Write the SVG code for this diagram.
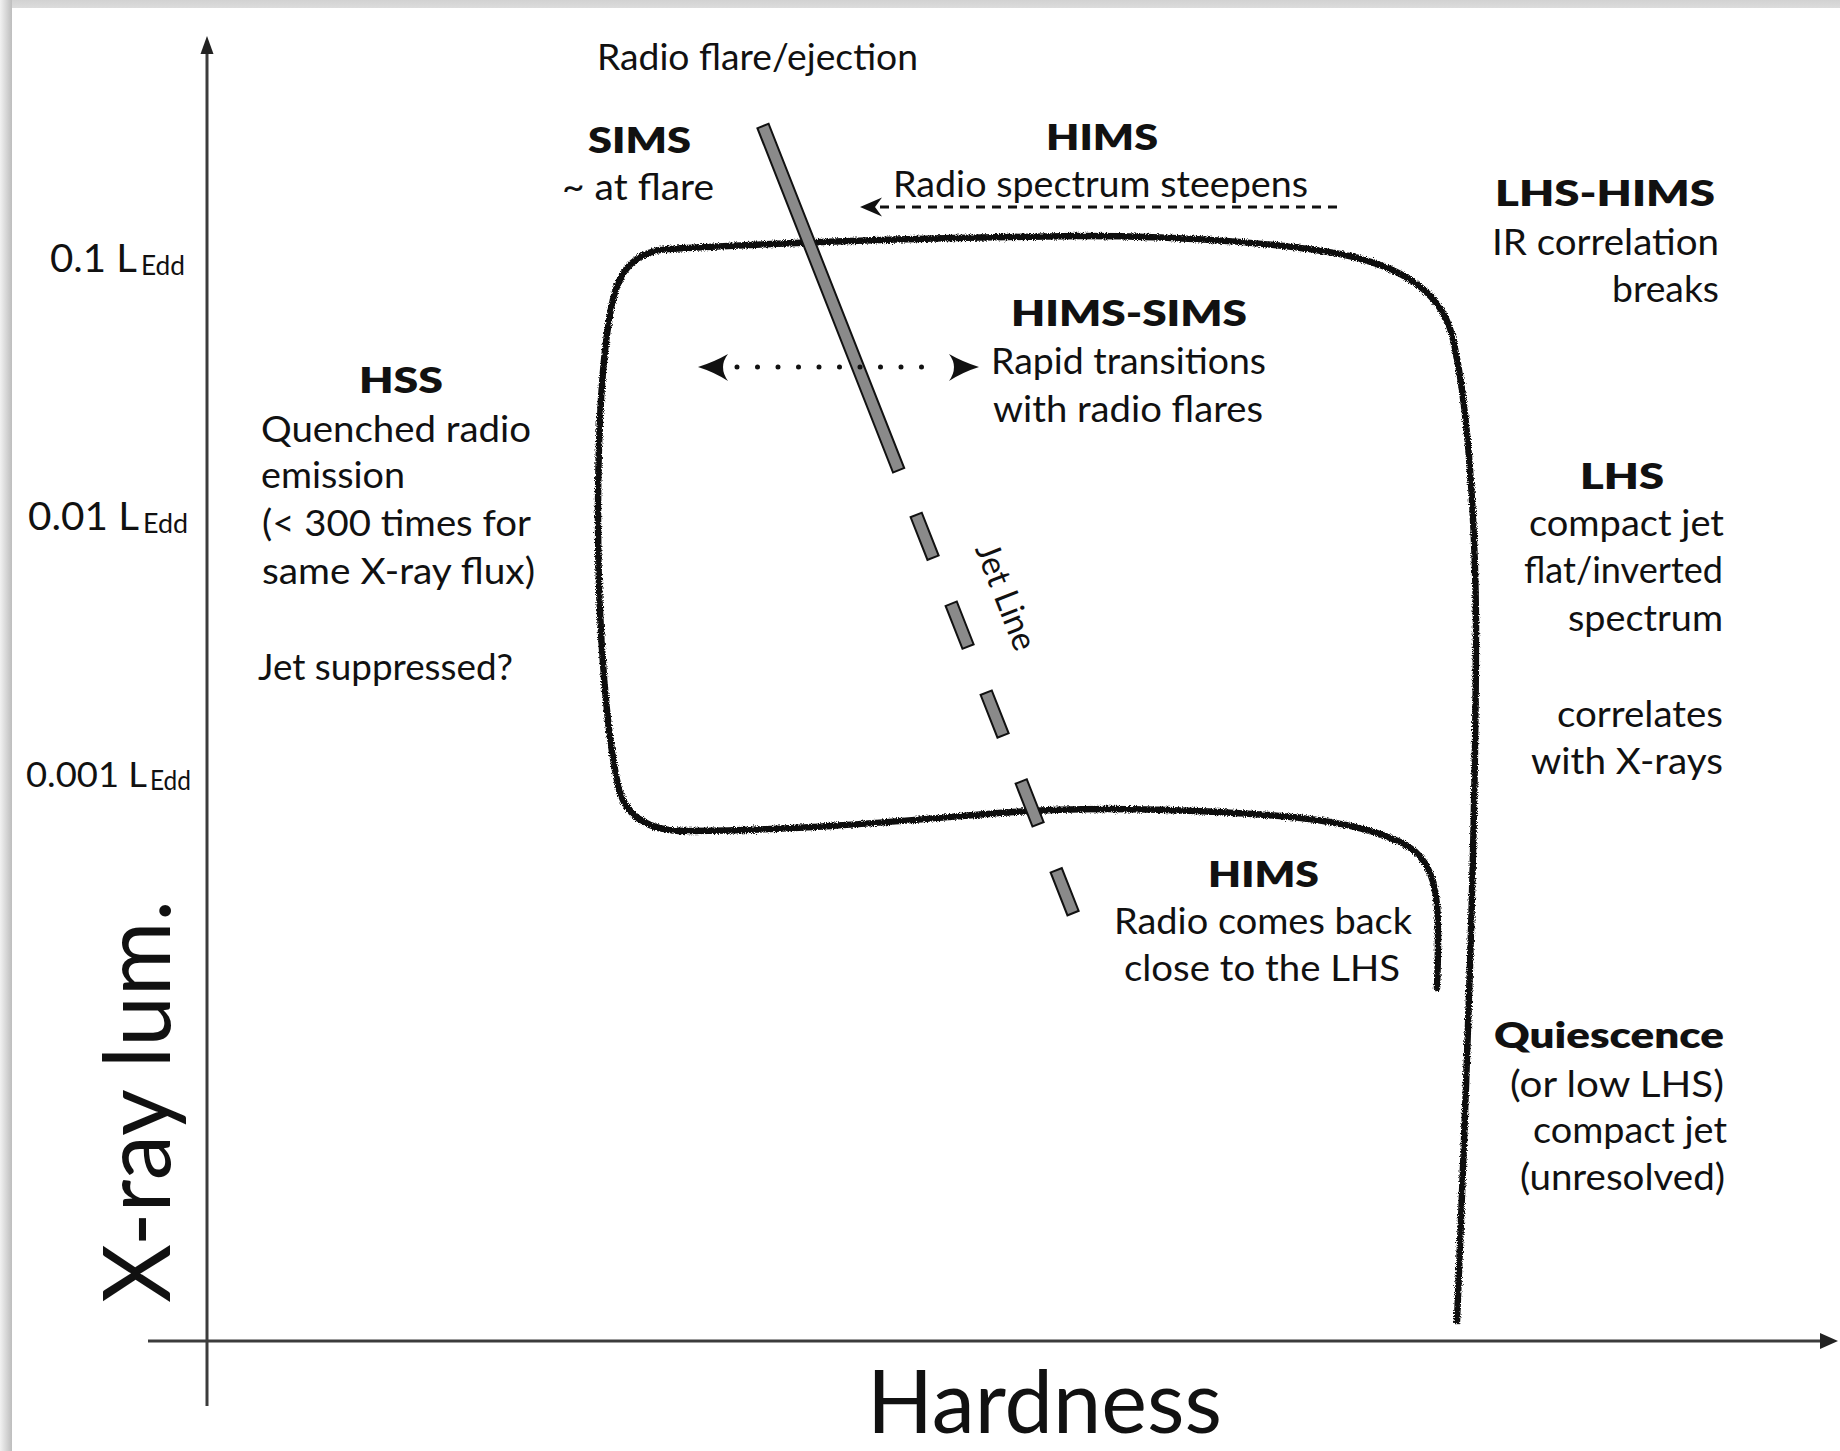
<svg xmlns="http://www.w3.org/2000/svg" width="1840" height="1451" viewBox="0 0 1840 1451">
<defs>
<style>
.t{font-family:Lato,"Liberation Sans",sans-serif;font-size:36px;fill:#111}
.b{font-weight:800}
.tick{font-family:Lato,"Liberation Sans",sans-serif;font-size:38px;fill:#111}
.sub{font-size:27px}
.ax{stroke:#3c3c3c;stroke-width:3;fill:none}
.axh{fill:#222}
.track{fill:none;stroke:#111;stroke-width:6.5;stroke-linecap:round;stroke-linejoin:round}
.jet{fill:#8a8a8a;stroke:#111;stroke-width:2}
.head{fill:#111}
</style>
<linearGradient id="leftShade" x1="0" y1="0" x2="1" y2="0">
<stop offset="0" stop-color="#f2f2f2"/><stop offset="1" stop-color="#bdbdbd"/>
</linearGradient>
<linearGradient id="topShade" x1="0" y1="0" x2="0" y2="1">
<stop offset="0" stop-color="#d2d2d2"/><stop offset="1" stop-color="#dcdcdc"/>
</linearGradient>
<filter id="rough" x="-3%" y="-3%" width="106%" height="106%">
<feTurbulence type="fractalNoise" baseFrequency="1.1" numOctaves="2" seed="7" result="noise"/>
<feDisplacementMap in="SourceGraphic" in2="noise" scale="4.5" xChannelSelector="R" yChannelSelector="G"/>
</filter>
</defs>

<rect x="0" y="0" width="1840" height="1451" fill="#fff"/>
<rect x="0" y="0" width="1840" height="8" fill="url(#topShade)"/>
<rect x="0" y="0" width="12" height="1451" fill="url(#leftShade)"/>

<g id="connectors">
  <g id="axes">
    <line class="ax" x1="207" y1="1406" x2="207" y2="50"/>
    <polygon class="axh" points="207,36 200.5,54 213.5,54"/>
    <line class="ax" x1="148" y1="1341" x2="1822" y2="1341"/>
    <polygon class="axh" points="1838,1341 1820,1333 1820,1349"/>
  </g>
  <path id="track" class="track" filter="url(#rough)" d="M1437,988 C1438,960 1439,930 1437,905 C1434,870 1422,852 1400,842 C1370,828 1330,820 1280,816 C1200,810 1100,806 1013,812 C930,818 820,830 690,831 C650,832 625,818 618,785 C608,740 598,640 598,520 C598,430 602,360 610,315 C616,275 630,252 668,249 C760,244 900,238 1080,236 C1200,236 1290,245 1340,254 C1400,266 1440,290 1452,335 C1468,400 1475,520 1476,620 C1476,800 1470,1000 1457,1321"/>
  <g id="jetline" transform="translate(763 126) rotate(68.5)">
    <rect class="jet" x="0" y="-6" width="370" height="12"/>
    <rect class="jet" x="418" y="-6" width="46" height="12"/>
    <rect class="jet" x="513.5" y="-6" width="46" height="12"/>
    <rect class="jet" x="609" y="-6" width="46" height="12"/>
    <rect class="jet" x="704.5" y="-6" width="46" height="12"/>
    <rect class="jet" x="800" y="-6" width="46" height="12"/>
  </g>
  <g id="steepens-arrow">
    <line x1="880" y1="207" x2="1338" y2="207" stroke="#111" stroke-width="3" stroke-dasharray="9 7"/>
    <path class="head" d="M860,207 L882,197.5 L875,207 L882,216.5 Z"/>
  </g>
  <g id="transition-arrow">
    <line x1="737" y1="367" x2="942" y2="367" stroke="#111" stroke-width="5" stroke-linecap="round" stroke-dasharray="0 20.5"/>
    <path class="head" d="M698,367 Q714,362 728,354 Q718,367 728,381 Q714,372 698,367 Z"/>
    <path class="head" d="M979,367 Q963,362 949,354 Q959,367 949,381 Q963,372 979,367 Z"/>
  </g>
</g>

<g id="axis-labels">
  <text id="ylabel" class="t" style="font-size:94px" transform="translate(170 1303) rotate(-90)" textLength="403" lengthAdjust="spacingAndGlyphs">X-ray lum.</text>
  <text id="xlabel" class="t" style="font-size:88px" x="867" y="1433" textLength="355" lengthAdjust="spacingAndGlyphs">Hardness</text>
  <g id="ticks">
    <text class="tick"><tspan x="50" y="272" textLength="87" lengthAdjust="spacingAndGlyphs">0.1 L</tspan><tspan class="sub" x="141" y="275" textLength="44" lengthAdjust="spacingAndGlyphs">Edd</tspan></text>
    <text class="tick"><tspan x="28" y="530" textLength="111" lengthAdjust="spacingAndGlyphs">0.01 L</tspan><tspan class="sub" x="143" y="533" textLength="45" lengthAdjust="spacingAndGlyphs">Edd</tspan></text>
    <text class="tick" style="font-size:35px"><tspan x="26" y="787" textLength="121" lengthAdjust="spacingAndGlyphs">0.001 L</tspan><tspan class="sub" x="150" y="790" textLength="41" lengthAdjust="spacingAndGlyphs">Edd</tspan></text>
  </g>
</g>

<g id="node-radio-flare">
  <text class="t" x="597" y="70" textLength="321" lengthAdjust="spacingAndGlyphs">Radio flare/ejection</text>
</g>
<g id="node-sims">
  <text class="t b" x="588" y="153" textLength="103" lengthAdjust="spacingAndGlyphs">SIMS</text>
  <text class="t" x="562" y="200" textLength="152" lengthAdjust="spacingAndGlyphs">~ at flare</text>
</g>
<g id="node-hims-top">
  <text class="t b" x="1046" y="150" textLength="112" lengthAdjust="spacingAndGlyphs">HIMS</text>
  <text class="t" x="893" y="197" textLength="415" lengthAdjust="spacingAndGlyphs">Radio spectrum steepens</text>
</g>
<g id="node-lhs-hims">
  <text class="t b" x="1495" y="206" textLength="220" lengthAdjust="spacingAndGlyphs">LHS-HIMS</text>
  <text class="t" x="1492" y="255" textLength="227" lengthAdjust="spacingAndGlyphs">IR correlation</text>
  <text class="t" x="1612" y="302" textLength="107" lengthAdjust="spacingAndGlyphs">breaks</text>
</g>
<g id="node-hims-sims">
  <text class="t b" x="1011" y="326" textLength="236" lengthAdjust="spacingAndGlyphs">HIMS-SIMS</text>
  <text class="t" x="991" y="374" textLength="275" lengthAdjust="spacingAndGlyphs">Rapid transitions</text>
  <text class="t" x="993" y="422" textLength="270" lengthAdjust="spacingAndGlyphs">with radio flares</text>
</g>
<g id="node-hss">
  <text class="t b" x="359" y="393" textLength="84" lengthAdjust="spacingAndGlyphs">HSS</text>
  <text class="t" x="261" y="442" textLength="270" lengthAdjust="spacingAndGlyphs">Quenched radio</text>
  <text class="t" x="261" y="488" textLength="144" lengthAdjust="spacingAndGlyphs">emission</text>
  <text class="t" x="262" y="536" textLength="269" lengthAdjust="spacingAndGlyphs">(&lt; 300 times for</text>
  <text class="t" x="262" y="584" textLength="273" lengthAdjust="spacingAndGlyphs">same X-ray flux)</text>
  <text class="t" x="258" y="680" textLength="255" lengthAdjust="spacingAndGlyphs">Jet suppressed?</text>
</g>
<g id="node-lhs">
  <text class="t b" x="1580" y="489" textLength="84" lengthAdjust="spacingAndGlyphs">LHS</text>
  <text class="t" x="1529" y="536" textLength="195" lengthAdjust="spacingAndGlyphs">compact jet</text>
  <text class="t" x="1524" y="583" textLength="199" lengthAdjust="spacingAndGlyphs">flat/inverted</text>
  <text class="t" x="1568" y="631" textLength="155" lengthAdjust="spacingAndGlyphs">spectrum</text>
  <text class="t" x="1557" y="727" textLength="166" lengthAdjust="spacingAndGlyphs">correlates</text>
  <text class="t" x="1531" y="774" textLength="192" lengthAdjust="spacingAndGlyphs">with X-rays</text>
</g>
<g id="node-jet-line">
  <text class="t" style="font-size:34px" transform="translate(763 126) rotate(68.5)" x="527" y="-42" text-anchor="middle" textLength="112" lengthAdjust="spacingAndGlyphs">Jet Line</text>
</g>
<g id="node-hims-low">
  <text class="t b" x="1208" y="887" textLength="111" lengthAdjust="spacingAndGlyphs">HIMS</text>
  <text class="t" x="1114" y="934" textLength="298" lengthAdjust="spacingAndGlyphs">Radio comes back</text>
  <text class="t" x="1124" y="981" textLength="276" lengthAdjust="spacingAndGlyphs">close to the LHS</text>
</g>
<g id="node-quiescence">
  <text class="t b" x="1494" y="1048" textLength="230" lengthAdjust="spacingAndGlyphs">Quiescence</text>
  <text class="t" x="1510" y="1097" textLength="214" lengthAdjust="spacingAndGlyphs">(or low LHS)</text>
  <text class="t" x="1533" y="1143" textLength="194" lengthAdjust="spacingAndGlyphs">compact jet</text>
  <text class="t" x="1520" y="1190" textLength="205" lengthAdjust="spacingAndGlyphs">(unresolved)</text>
</g>
</svg>
